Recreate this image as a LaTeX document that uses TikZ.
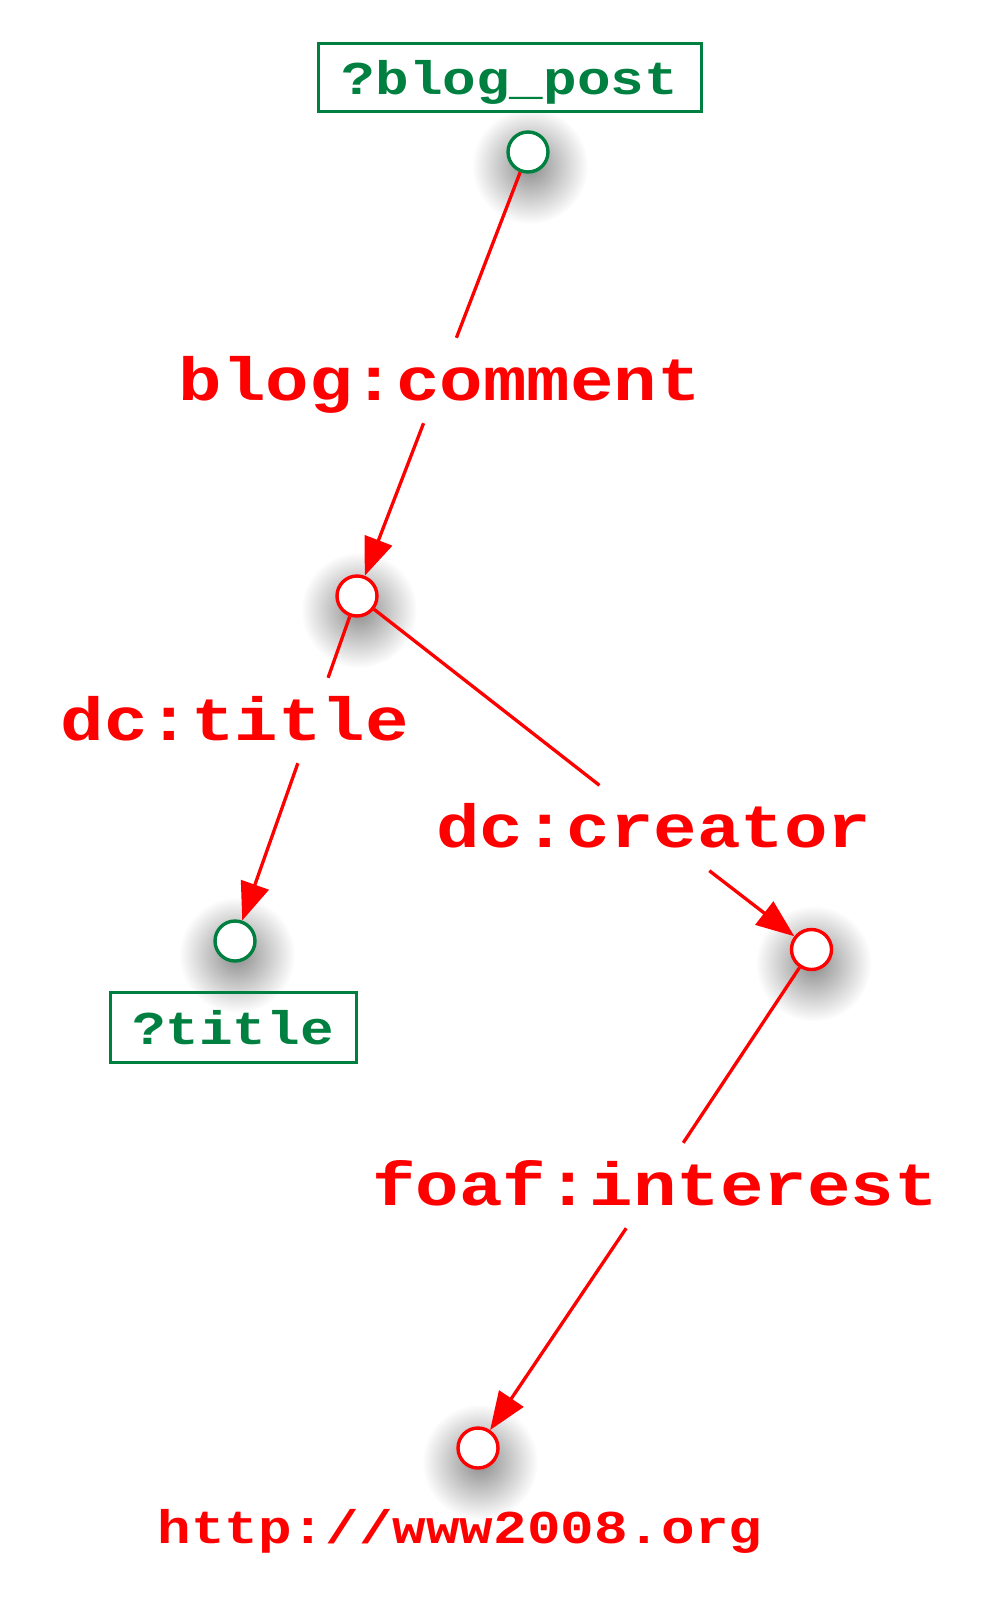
\documentclass[tikz,border=0pt]{standalone}
\usepackage{fontspec}
\setmonofont{Liberation Mono}
\usetikzlibrary{arrows.meta,fadings,calc}
\definecolor{rdfgreen}{RGB}{0,128,64}
\definecolor{rdfred}{RGB}{255,0,0}
\tikzfading[name=fuzzy, inner color=transparent!0, outer color=transparent!100]
\newcommand{\sq}[1]{\scalebox{1}[0.84]{#1}}
\begin{document}
\begin{tikzpicture}[x=1pt,y=-1pt,
  blank/.style={circle, draw, line width=3.4pt, fill=white, minimum size=40pt, inner sep=0pt},
  varnode/.style={blank, draw=rdfgreen},
  resnode/.style={blank, draw=rdfred},
  varbox/.style={draw=rdfgreen, line width=3pt, text=rdfgreen, font=\ttfamily\bfseries\fontsize{56}{60}\selectfont, text height=40pt, text depth=6pt, inner sep=0pt},
  prop/.style={text=rdfred, font=\ttfamily\bfseries\fontsize{72.5}{80}\selectfont, text height=45pt, text depth=6pt, inner ysep=17pt, inner xsep=2pt},
  urltext/.style={text=rdfred, font=\ttfamily\bfseries\fontsize{56}{60}\selectfont, anchor=base, inner sep=0pt},
  edge/.style={draw=rdfred, line width=3.3pt},
  arr/.style={edge, -{Triangle[length=38pt,width=29pt]}},
  shadowblob/.style={fill=black, opacity=0.45, path fading=fuzzy}]
\useasboundingbox (0,0) rectangle (1000,1600);
% positions
\coordinate (p1) at (528,152);
\coordinate (p2) at (357,596);
\coordinate (p3) at (235,941);
\coordinate (p4) at (811.5,949.5);
\coordinate (p5) at (478,1448);
% soft shadows
\foreach \p in {p1,p2,p3,p4,p5}
  \fill[shadowblob] ($(\p)+(2,14)$) circle (58);
% boxes and labels
\node[varbox, minimum width=383pt, minimum height=68pt] (bp) at (510,78) {\sq{?blog\_post}};
\node[varbox, minimum width=246pt, minimum height=70pt] (vt) at (233,1027) {\sq{?title}};
\node[prop] (bc) at (440,380.5) {\sq{blog:comment}};
\node[prop] (dt) at (235,720.5) {\sq{dc:title}};
\node[prop] (dcr) at (654,828) {\sq{dc:creator}};
\node[prop] (fi) at (655,1185.5) {\sq{foaf:interest}};
\node[urltext] (url) at (460,1543) {\sq{http://www2008.org}};
% circles
\node[varnode] (c1) at (p1) {};
\node[resnode] (c2) at (p2) {};
\node[varnode] (c3) at (p3) {};
\node[resnode] (c4) at (p4) {};
\node[resnode] (c5) at (p5) {};
% connectors
\draw[edge] (c1) -- (bc);
\draw[arr] (bc) -- (c2);
\coordinate (t1) at (intersection of p2--p3 and dt.north west--dt.north east);
\coordinate (t2) at (intersection of p2--p3 and dt.south west--dt.south east);
\draw[edge] (c2) -- (t1);
\draw[arr] (t2) -- (c3);
\draw[edge] (c2) -- (dcr);
\draw[arr] (dcr) -- (c4);
\draw[edge] (c4) -- (fi);
\draw[arr] (fi) -- (c5);
\end{tikzpicture}
\end{document}
